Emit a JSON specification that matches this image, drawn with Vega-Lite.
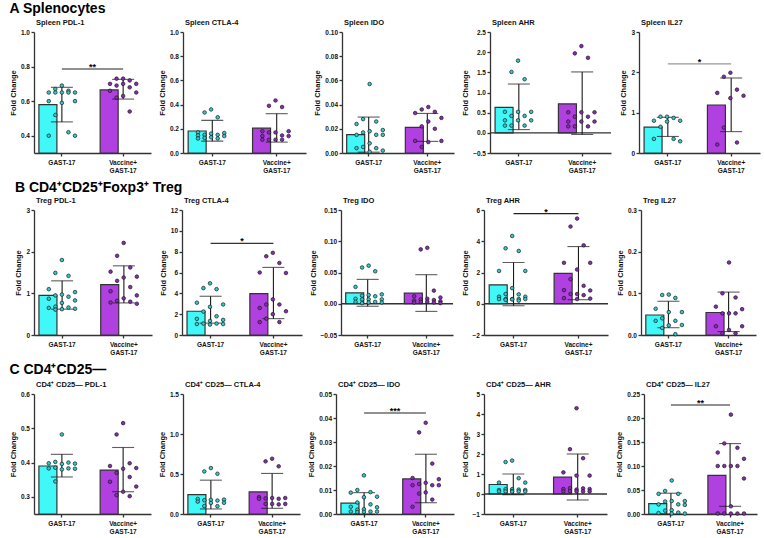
{
"$schema":"https://vega.github.io/schema/vega-lite/v6.json",
"padding":{"left":9,"top":1,"right":2,"bottom":0},
"background":"white",
"datasets":{
"bars":[
{"p":"A1","g":"G","mean":0.58,"lo":0.48,"hi":0.68},{"p":"A1","g":"V","mean":0.665,"lo":0.612,"hi":0.726},
{"p":"A2","g":"G","mean":0.182,"lo":0.098,"hi":0.27},{"p":"A2","g":"V","mean":0.205,"lo":0.09,"hi":0.325},
{"p":"A3","g":"G","mean":0.0152,"lo":0.0007,"hi":0.0297},{"p":"A3","g":"V","mean":0.0212,"lo":0.0096,"hi":0.0327},
{"p":"A4","g":"G","mean":0.633,"lo":0.08,"hi":1.21},{"p":"A4","g":"V","mean":0.717,"lo":-0.04,"hi":1.51},
{"p":"A5","g":"G","mean":0.64,"lo":0.41,"hi":0.885},{"p":"A5","g":"V","mean":1.19,"lo":0.53,"hi":1.86},
{"p":"B1","g":"G","mean":0.95,"lo":0.62,"hi":1.3},{"p":"B1","g":"V","mean":1.21,"lo":0.77,"hi":1.66},
{"p":"B2","g":"G","mean":2.28,"lo":1.14,"hi":3.72},{"p":"B2","g":"V","mean":3.98,"lo":1.57,"hi":6.49},
{"p":"B3","g":"G","mean":0.0174,"lo":-0.004,"hi":0.039},{"p":"B3","g":"V","mean":0.0169,"lo":-0.0122,"hi":0.0465},
{"p":"B4","g":"G","mean":1.21,"lo":-0.13,"hi":2.64},{"p":"B4","g":"V","mean":1.94,"lo":0.26,"hi":3.66},
{"p":"B5","g":"G","mean":0.048,"lo":0.0175,"hi":0.081},{"p":"B5","g":"V","mean":0.054,"lo":0.0083,"hi":0.103},
{"p":"C1","g":"G","mean":0.39,"lo":0.358,"hi":0.424},{"p":"C1","g":"V","mean":0.378,"lo":0.315,"hi":0.444},
{"p":"C2","g":"G","mean":0.243,"lo":0.063,"hi":0.423},{"p":"C2","g":"V","mean":0.276,"lo":0.071,"hi":0.507},
{"p":"C3","g":"G","mean":0.0045,"lo":0.0,"hi":0.0089},{"p":"C3","g":"V","mean":0.0146,"lo":0.0047,"hi":0.0249},
{"p":"C4","g":"G","mean":0.476,"lo":-0.03,"hi":1.0},{"p":"C4","g":"V","mean":0.84,"lo":-0.3,"hi":2.0},
{"p":"C5","g":"G","mean":0.0216,"lo":0.0,"hi":0.0433},{"p":"C5","g":"V","mean":0.0803,"lo":0.016,"hi":0.1467}
],
"sig":[
{"p":"A1","from":"G","to":"V","y":0.786,"label":"**"},
{"p":"A5","from":"G","to":"V","y":2.21,"label":"*"},
{"p":"B2","from":"G","to":"V","y":8.8,"label":"*"},
{"p":"B4","from":"G","to":"V","y":5.77,"label":"*"},
{"p":"C3","from":"G","to":"V","y":0.0421,"label":"***"},
{"p":"C5","from":"G","to":"V","y":0.227,"label":"**"}
],
"pts":[
{"p":"A1","g":"G","v":0.69},{"p":"A1","g":"G","v":0.67},{"p":"A1","g":"G","v":0.66},{"p":"A1","g":"G","v":0.65},{"p":"A1","g":"G","v":0.65},{"p":"A1","g":"G","v":0.65},{"p":"A1","g":"G","v":0.65},{"p":"A1","g":"G","v":0.65},{"p":"A1","g":"G","v":0.6},{"p":"A1","g":"G","v":0.6},{"p":"A1","g":"G","v":0.59},{"p":"A1","g":"G","v":0.52},{"p":"A1","g":"G","v":0.42},{"p":"A1","g":"G","v":0.4},{"p":"A1","g":"G","v":0.4},
{"p":"A1","g":"V","v":0.73},{"p":"A1","g":"V","v":0.73},{"p":"A1","g":"V","v":0.72},{"p":"A1","g":"V","v":0.7},{"p":"A1","g":"V","v":0.7},{"p":"A1","g":"V","v":0.7},{"p":"A1","g":"V","v":0.69},{"p":"A1","g":"V","v":0.68},{"p":"A1","g":"V","v":0.66},{"p":"A1","g":"V","v":0.65},{"p":"A1","g":"V","v":0.63},{"p":"A1","g":"V","v":0.62},{"p":"A1","g":"V","v":0.54},
{"p":"A2","g":"G","v":0.36},{"p":"A2","g":"G","v":0.335},{"p":"A2","g":"G","v":0.295},{"p":"A2","g":"G","v":0.17},{"p":"A2","g":"G","v":0.165},{"p":"A2","g":"G","v":0.16},{"p":"A2","g":"G","v":0.15},{"p":"A2","g":"G","v":0.15},{"p":"A2","g":"G","v":0.145},{"p":"A2","g":"G","v":0.14},{"p":"A2","g":"G","v":0.13},{"p":"A2","g":"G","v":0.125},{"p":"A2","g":"G","v":0.12},{"p":"A2","g":"G","v":0.12},
{"p":"A2","g":"V","v":0.434},{"p":"A2","g":"V","v":0.39},{"p":"A2","g":"V","v":0.38},{"p":"A2","g":"V","v":0.18},{"p":"A2","g":"V","v":0.18},{"p":"A2","g":"V","v":0.17},{"p":"A2","g":"V","v":0.17},{"p":"A2","g":"V","v":0.145},{"p":"A2","g":"V","v":0.14},{"p":"A2","g":"V","v":0.14},{"p":"A2","g":"V","v":0.11},{"p":"A2","g":"V","v":0.11},{"p":"A2","g":"V","v":0.11},{"p":"A2","g":"V","v":0.11},
{"p":"A3","g":"G","v":0.057},{"p":"A3","g":"G","v":0.028},{"p":"A3","g":"G","v":0.026},{"p":"A3","g":"G","v":0.024},{"p":"A3","g":"G","v":0.019},{"p":"A3","g":"G","v":0.018},{"p":"A3","g":"G","v":0.017},{"p":"A3","g":"G","v":0.015},{"p":"A3","g":"G","v":0.015},{"p":"A3","g":"G","v":0.015},{"p":"A3","g":"G","v":0.008},{"p":"A3","g":"G","v":0.005},{"p":"A3","g":"G","v":0.004},{"p":"A3","g":"G","v":0.004},{"p":"A3","g":"G","v":0.002},{"p":"A3","g":"G","v":0.001},
{"p":"A3","g":"V","v":0.038},{"p":"A3","g":"V","v":0.036},{"p":"A3","g":"V","v":0.034},{"p":"A3","g":"V","v":0.033},{"p":"A3","g":"V","v":0.029},{"p":"A3","g":"V","v":0.026},{"p":"A3","g":"V","v":0.022},{"p":"A3","g":"V","v":0.02},{"p":"A3","g":"V","v":0.01},{"p":"A3","g":"V","v":0.01},{"p":"A3","g":"V","v":0.009},{"p":"A3","g":"V","v":0.005},
{"p":"A4","g":"G","v":1.79},{"p":"A4","g":"G","v":1.51},{"p":"A4","g":"G","v":1.33},{"p":"A4","g":"G","v":0.52},{"p":"A4","g":"G","v":0.52},{"p":"A4","g":"G","v":0.52},{"p":"A4","g":"G","v":0.42},{"p":"A4","g":"G","v":0.42},{"p":"A4","g":"G","v":0.31},{"p":"A4","g":"G","v":0.31},{"p":"A4","g":"G","v":0.31},{"p":"A4","g":"G","v":0.18},{"p":"A4","g":"G","v":0.18},{"p":"A4","g":"G","v":0.18},
{"p":"A4","g":"V","v":2.15},{"p":"A4","g":"V","v":1.97},{"p":"A4","g":"V","v":1.86},{"p":"A4","g":"V","v":0.51},{"p":"A4","g":"V","v":0.51},{"p":"A4","g":"V","v":0.51},{"p":"A4","g":"V","v":0.4},{"p":"A4","g":"V","v":0.4},{"p":"A4","g":"V","v":0.28},{"p":"A4","g":"V","v":0.28},{"p":"A4","g":"V","v":0.28},{"p":"A4","g":"V","v":0.16},{"p":"A4","g":"V","v":0.16},{"p":"A4","g":"V","v":0.16},
{"p":"A5","g":"G","v":0.9},{"p":"A5","g":"G","v":0.9},{"p":"A5","g":"G","v":0.87},{"p":"A5","g":"G","v":0.8},{"p":"A5","g":"G","v":0.8},{"p":"A5","g":"G","v":0.78},{"p":"A5","g":"G","v":0.65},{"p":"A5","g":"G","v":0.35},{"p":"A5","g":"G","v":0.35},{"p":"A5","g":"G","v":0.29},
{"p":"A5","g":"V","v":1.99},{"p":"A5","g":"V","v":1.89},{"p":"A5","g":"V","v":1.57},{"p":"A5","g":"V","v":1.49},{"p":"A5","g":"V","v":1.42},{"p":"A5","g":"V","v":1.36},{"p":"A5","g":"V","v":0.63},{"p":"A5","g":"V","v":0.26},{"p":"A5","g":"V","v":0.21},
{"p":"B1","g":"G","v":1.8},{"p":"B1","g":"G","v":1.49},{"p":"B1","g":"G","v":1.42},{"p":"B1","g":"G","v":1.1},{"p":"B1","g":"G","v":1.03},{"p":"B1","g":"G","v":0.97},{"p":"B1","g":"G","v":0.95},{"p":"B1","g":"G","v":0.92},{"p":"B1","g":"G","v":0.87},{"p":"B1","g":"G","v":0.83},{"p":"B1","g":"G","v":0.77},{"p":"B1","g":"G","v":0.68},{"p":"B1","g":"G","v":0.66},{"p":"B1","g":"G","v":0.65},{"p":"B1","g":"G","v":0.63},{"p":"B1","g":"G","v":0.62},{"p":"B1","g":"G","v":0.61},
{"p":"B1","g":"V","v":2.21},{"p":"B1","g":"V","v":1.9},{"p":"B1","g":"V","v":1.62},{"p":"B1","g":"V","v":1.52},{"p":"B1","g":"V","v":1.4},{"p":"B1","g":"V","v":1.38},{"p":"B1","g":"V","v":1.3},{"p":"B1","g":"V","v":1.15},{"p":"B1","g":"V","v":1.05},{"p":"B1","g":"V","v":0.95},{"p":"B1","g":"V","v":0.88},{"p":"B1","g":"V","v":0.82},{"p":"B1","g":"V","v":0.8},{"p":"B1","g":"V","v":0.78},{"p":"B1","g":"V","v":0.75},
{"p":"B2","g":"G","v":4.96},{"p":"B2","g":"G","v":4.5},{"p":"B2","g":"G","v":4.4},{"p":"B2","g":"G","v":3.1},{"p":"B2","g":"G","v":2.93},{"p":"B2","g":"G","v":2.7},{"p":"B2","g":"G","v":2.25},{"p":"B2","g":"G","v":1.8},{"p":"B2","g":"G","v":1.55},{"p":"B2","g":"G","v":1.45},{"p":"B2","g":"G","v":1.35},{"p":"B2","g":"G","v":1.1},{"p":"B2","g":"G","v":1.1},{"p":"B2","g":"G","v":1.05},{"p":"B2","g":"G","v":1.05},{"p":"B2","g":"G","v":1.0},
{"p":"B2","g":"V","v":7.89},{"p":"B2","g":"V","v":7.56},{"p":"B2","g":"V","v":6.91},{"p":"B2","g":"V","v":6.0},{"p":"B2","g":"V","v":5.95},{"p":"B2","g":"V","v":3.42},{"p":"B2","g":"V","v":2.93},{"p":"B2","g":"V","v":2.93},{"p":"B2","g":"V","v":2.6},{"p":"B2","g":"V","v":2.28},{"p":"B2","g":"V","v":2.0},{"p":"B2","g":"V","v":1.57},{"p":"B2","g":"V","v":1.24},{"p":"B2","g":"V","v":1.24},
{"p":"B3","g":"G","v":0.061},{"p":"B3","g":"G","v":0.058},{"p":"B3","g":"G","v":0.052},{"p":"B3","g":"G","v":0.027},{"p":"B3","g":"G","v":0.015},{"p":"B3","g":"G","v":0.014},{"p":"B3","g":"G","v":0.013},{"p":"B3","g":"G","v":0.012},{"p":"B3","g":"G","v":0.008},{"p":"B3","g":"G","v":0.007},{"p":"B3","g":"G","v":0.007},{"p":"B3","g":"G","v":0.007},{"p":"B3","g":"G","v":0.003},{"p":"B3","g":"G","v":0.003},{"p":"B3","g":"G","v":0.002},{"p":"B3","g":"G","v":0.002},{"p":"B3","g":"G","v":0.001},
{"p":"B3","g":"V","v":0.0895},{"p":"B3","g":"V","v":0.087},{"p":"B3","g":"V","v":0.021},{"p":"B3","g":"V","v":0.012},{"p":"B3","g":"V","v":0.01},{"p":"B3","g":"V","v":0.008},{"p":"B3","g":"V","v":0.007},{"p":"B3","g":"V","v":0.006},{"p":"B3","g":"V","v":0.005},{"p":"B3","g":"V","v":0.004},{"p":"B3","g":"V","v":0.003},{"p":"B3","g":"V","v":0.003},{"p":"B3","g":"V","v":0.002},{"p":"B3","g":"V","v":0.002},{"p":"B3","g":"V","v":0.001},
{"p":"B4","g":"G","v":4.34},{"p":"B4","g":"G","v":3.55},{"p":"B4","g":"G","v":3.38},{"p":"B4","g":"G","v":2.1},{"p":"B4","g":"G","v":2.1},{"p":"B4","g":"G","v":1.0},{"p":"B4","g":"G","v":0.62},{"p":"B4","g":"G","v":0.6},{"p":"B4","g":"G","v":0.45},{"p":"B4","g":"G","v":0.45},{"p":"B4","g":"G","v":0.3},{"p":"B4","g":"G","v":0.3},{"p":"B4","g":"G","v":0.3},{"p":"B4","g":"G","v":0.3},{"p":"B4","g":"G","v":0.3},{"p":"B4","g":"G","v":0.28},{"p":"B4","g":"G","v":0.25},{"p":"B4","g":"G","v":0.2},
{"p":"B4","g":"V","v":5.45},{"p":"B4","g":"V","v":4.94},{"p":"B4","g":"V","v":3.74},{"p":"B4","g":"V","v":2.62},{"p":"B4","g":"V","v":2.62},{"p":"B4","g":"V","v":2.19},{"p":"B4","g":"V","v":1.57},{"p":"B4","g":"V","v":1.15},{"p":"B4","g":"V","v":0.87},{"p":"B4","g":"V","v":0.85},{"p":"B4","g":"V","v":0.62},{"p":"B4","g":"V","v":0.62},{"p":"B4","g":"V","v":0.55},{"p":"B4","g":"V","v":0.36},{"p":"B4","g":"V","v":0.33},{"p":"B4","g":"V","v":0.3},
{"p":"B5","g":"G","v":0.097},{"p":"B5","g":"G","v":0.096},{"p":"B5","g":"G","v":0.089},{"p":"B5","g":"G","v":0.063},{"p":"B5","g":"G","v":0.055},{"p":"B5","g":"G","v":0.055},{"p":"B5","g":"G","v":0.04},{"p":"B5","g":"G","v":0.034},{"p":"B5","g":"G","v":0.034},{"p":"B5","g":"G","v":0.024},{"p":"B5","g":"G","v":0.023},{"p":"B5","g":"G","v":0.017},{"p":"B5","g":"G","v":0.002},
{"p":"B5","g":"V","v":0.174},{"p":"B5","g":"V","v":0.1},{"p":"B5","g":"V","v":0.09},{"p":"B5","g":"V","v":0.068},{"p":"B5","g":"V","v":0.062},{"p":"B5","g":"V","v":0.052},{"p":"B5","g":"V","v":0.052},{"p":"B5","g":"V","v":0.052},{"p":"B5","g":"V","v":0.021},{"p":"B5","g":"V","v":0.021},{"p":"B5","g":"V","v":0.012},{"p":"B5","g":"V","v":0.004},{"p":"B5","g":"V","v":0.004},
{"p":"C1","g":"G","v":0.482},{"p":"C1","g":"G","v":0.402},{"p":"C1","g":"G","v":0.4},{"p":"C1","g":"G","v":0.398},{"p":"C1","g":"G","v":0.397},{"p":"C1","g":"G","v":0.396},{"p":"C1","g":"G","v":0.385},{"p":"C1","g":"G","v":0.383},{"p":"C1","g":"G","v":0.383},{"p":"C1","g":"G","v":0.382},{"p":"C1","g":"G","v":0.38},{"p":"C1","g":"G","v":0.345},
{"p":"C1","g":"V","v":0.515},{"p":"C1","g":"V","v":0.482},{"p":"C1","g":"V","v":0.398},{"p":"C1","g":"V","v":0.39},{"p":"C1","g":"V","v":0.384},{"p":"C1","g":"V","v":0.382},{"p":"C1","g":"V","v":0.37},{"p":"C1","g":"V","v":0.358},{"p":"C1","g":"V","v":0.344},{"p":"C1","g":"V","v":0.33},{"p":"C1","g":"V","v":0.315},{"p":"C1","g":"V","v":0.305},{"p":"C1","g":"V","v":0.302},
{"p":"C2","g":"G","v":0.574},{"p":"C2","g":"G","v":0.532},{"p":"C2","g":"G","v":0.503},{"p":"C2","g":"G","v":0.188},{"p":"C2","g":"G","v":0.18},{"p":"C2","g":"G","v":0.176},{"p":"C2","g":"G","v":0.172},{"p":"C2","g":"G","v":0.168},{"p":"C2","g":"G","v":0.155},{"p":"C2","g":"G","v":0.14},{"p":"C2","g":"G","v":0.138},{"p":"C2","g":"G","v":0.1},{"p":"C2","g":"G","v":0.098},
{"p":"C2","g":"V","v":0.691},{"p":"C2","g":"V","v":0.658},{"p":"C2","g":"V","v":0.596},{"p":"C2","g":"V","v":0.21},{"p":"C2","g":"V","v":0.2},{"p":"C2","g":"V","v":0.2},{"p":"C2","g":"V","v":0.195},{"p":"C2","g":"V","v":0.19},{"p":"C2","g":"V","v":0.19},{"p":"C2","g":"V","v":0.126},{"p":"C2","g":"V","v":0.126},{"p":"C2","g":"V","v":0.126},{"p":"C2","g":"V","v":0.12},
{"p":"C3","g":"G","v":0.0161},{"p":"C3","g":"G","v":0.01},{"p":"C3","g":"G","v":0.0091},{"p":"C3","g":"G","v":0.0089},{"p":"C3","g":"G","v":0.0072},{"p":"C3","g":"G","v":0.007},{"p":"C3","g":"G","v":0.0048},{"p":"C3","g":"G","v":0.004},{"p":"C3","g":"G","v":0.003},{"p":"C3","g":"G","v":0.0028},{"p":"C3","g":"G","v":0.002},{"p":"C3","g":"G","v":0.0018},{"p":"C3","g":"G","v":0.001},{"p":"C3","g":"G","v":0.001},{"p":"C3","g":"G","v":0.001},{"p":"C3","g":"G","v":0.0009},{"p":"C3","g":"G","v":0.0008},
{"p":"C3","g":"V","v":0.038},{"p":"C3","g":"V","v":0.034},{"p":"C3","g":"V","v":0.021},{"p":"C3","g":"V","v":0.015},{"p":"C3","g":"V","v":0.0145},{"p":"C3","g":"V","v":0.013},{"p":"C3","g":"V","v":0.0125},{"p":"C3","g":"V","v":0.012},{"p":"C3","g":"V","v":0.012},{"p":"C3","g":"V","v":0.012},{"p":"C3","g":"V","v":0.009},{"p":"C3","g":"V","v":0.0085},{"p":"C3","g":"V","v":0.006},{"p":"C3","g":"V","v":0.003},
{"p":"C4","g":"G","v":1.67},{"p":"C4","g":"G","v":1.6},{"p":"C4","g":"G","v":0.79},{"p":"C4","g":"G","v":0.57},{"p":"C4","g":"G","v":0.57},{"p":"C4","g":"G","v":0.24},{"p":"C4","g":"G","v":0.24},{"p":"C4","g":"G","v":0.22},{"p":"C4","g":"G","v":0.2},{"p":"C4","g":"G","v":0.2},{"p":"C4","g":"G","v":0.15},{"p":"C4","g":"G","v":0.13},{"p":"C4","g":"G","v":0.13},{"p":"C4","g":"G","v":0.13},{"p":"C4","g":"G","v":0.13},{"p":"C4","g":"G","v":0.12},
{"p":"C4","g":"V","v":4.29},{"p":"C4","g":"V","v":2.24},{"p":"C4","g":"V","v":1.79},{"p":"C4","g":"V","v":1.08},{"p":"C4","g":"V","v":0.92},{"p":"C4","g":"V","v":0.92},{"p":"C4","g":"V","v":0.29},{"p":"C4","g":"V","v":0.28},{"p":"C4","g":"V","v":0.25},{"p":"C4","g":"V","v":0.25},{"p":"C4","g":"V","v":0.22},{"p":"C4","g":"V","v":0.15},{"p":"C4","g":"V","v":0.13},{"p":"C4","g":"V","v":0.13},{"p":"C4","g":"V","v":0.13},{"p":"C4","g":"V","v":0.13},
{"p":"C5","g":"G","v":0.0698},{"p":"C5","g":"G","v":0.048},{"p":"C5","g":"G","v":0.042},{"p":"C5","g":"G","v":0.042},{"p":"C5","g":"G","v":0.027},{"p":"C5","g":"G","v":0.027},{"p":"C5","g":"G","v":0.026},{"p":"C5","g":"G","v":0.02},{"p":"C5","g":"G","v":0.02},{"p":"C5","g":"G","v":0.019},{"p":"C5","g":"G","v":0.008},{"p":"C5","g":"G","v":0.007},{"p":"C5","g":"G","v":0.003},{"p":"C5","g":"G","v":0.002},{"p":"C5","g":"G","v":0.001},{"p":"C5","g":"G","v":0.001},
{"p":"C5","g":"V","v":0.207},{"p":"C5","g":"V","v":0.147},{"p":"C5","g":"V","v":0.138},{"p":"C5","g":"V","v":0.128},{"p":"C5","g":"V","v":0.115},{"p":"C5","g":"V","v":0.1},{"p":"C5","g":"V","v":0.1},{"p":"C5","g":"V","v":0.1},{"p":"C5","g":"V","v":0.1},{"p":"C5","g":"V","v":0.074},{"p":"C5","g":"V","v":0.016},{"p":"C5","g":"V","v":0.001},{"p":"C5","g":"V","v":0.001},{"p":"C5","g":"V","v":0.001},{"p":"C5","g":"V","v":0.001},{"p":"C5","g":"V","v":0.001}
]
},
"spacing":6,
"vconcat":[
{"title":{"text":"A Splenocytes","fontSize":14,"frame":"bounds","dx":0,"offset":3,"color":"#000"},"spacing":7,
"hconcat":[
{"width":117,"height":121,"title":"Spleen PDL-1","layer":[
{"data":{"name":"bars"},"transform":[{"filter":"datum.p=='A1'"}],"mark":{"type":"bar","stroke":"#333","strokeWidth":1.2},"encoding":{"x":{"field":"g","type":"nominal","scale":{"domain":["G","V"],"paddingInner":0.25,"paddingOuter":0.08},"axis":{"title":null,"labelAngle":0,"labelExpr":"datum.value=='V'?['Vaccine+','GAST-17']:'GAST-17'","labelLineHeight":8,"labelPadding":3}},"y":{"field":"mean","type":"quantitative","scale":{"domain":[0.3,1],"nice":false,"zero":false},"axis":{"values":[0.4,0.6,0.8,1],"tickCount":20,"format":".1f","title":"Fold  Change","labelOverlap":false}},"y2":{"datum":0.3},"color":{"field":"g","type":"nominal","scale":{"domain":["G","V"],"range":["#40F8F8","#B040E0"]},"legend":null}}},
{"data":{"name":"bars"},"transform":[{"filter":"datum.p=='A1'"}],"mark":{"type":"rule","color":"#1a1a1a","strokeWidth":1.1},"encoding":{"x":{"field":"g","type":"nominal"},"y":{"field":"lo","type":"quantitative"},"y2":{"field":"hi"}}},
{"data":{"name":"bars"},"transform":[{"filter":"datum.p=='A1'"},{"fold":["lo","hi"]}],"mark":{"type":"tick","color":"#1a1a1a","thickness":1.1,"size":22},"encoding":{"x":{"field":"g","type":"nominal"},"y":{"field":"value","type":"quantitative"}}},
{"data":{"name":"pts"},"transform":[{"filter":"datum.p=='A1'"},{"window":[{"op":"row_number","as":"rn"}],"groupby":["g"],"sort":[{"field":"v","order":"descending"}]},{"calculate":"[0,-1,1,-2,2][(datum.rn-1)%5]","as":"jit"}],"mark":{"type":"circle","size":13,"stroke":"#1a1a1a","strokeWidth":0.7,"opacity":1},"encoding":{"x":{"field":"g","type":"nominal"},"xOffset":{"field":"jit","type":"quantitative","scale":{"domain":[-3.5,3.5]}},"y":{"field":"v","type":"quantitative"},"fill":{"field":"g","type":"nominal","scale":{"domain":["G","V"],"range":["#2CCCCC","#8B2AB8"]},"legend":null}}},
{"data":{"name":"sig"},"transform":[{"filter":"datum.p=='A1'"}],"mark":{"type":"rule","color":"#222","strokeWidth":1.1},"encoding":{"x":{"field":"from","type":"nominal"},"x2":{"field":"to"},"y":{"field":"y","type":"quantitative"}}},
{"data":{"name":"sig"},"transform":[{"filter":"datum.p=='A1'"}],"mark":{"type":"text","dx":30.6,"dy":1,"baseline":"alphabetic","fontSize":9,"fontWeight":"bold"},"encoding":{"x":{"field":"from","type":"nominal"},"y":{"field":"y","type":"quantitative"},"text":{"field":"label"}}}
]},
{"width":123,"height":121,"title":"Spleen CTLA-4","layer":[
{"data":{"name":"bars"},"transform":[{"filter":"datum.p=='A2'"}],"mark":{"type":"bar","stroke":"#333","strokeWidth":1.2},"encoding":{"x":{"field":"g","type":"nominal","scale":{"domain":["G","V"],"paddingInner":0.25,"paddingOuter":0.08},"axis":{"title":null,"labelAngle":0,"labelExpr":"datum.value=='V'?['Vaccine+','GAST-17']:'GAST-17'","labelLineHeight":8,"labelPadding":3}},"y":{"field":"mean","type":"quantitative","scale":{"domain":[0,1],"nice":false,"zero":false},"axis":{"values":[0,0.2,0.4,0.6,0.8,1],"tickCount":20,"format":".1f","title":"Fold  Change","labelOverlap":false}},"y2":{"datum":0},"color":{"field":"g","type":"nominal","scale":{"domain":["G","V"],"range":["#40F8F8","#B040E0"]},"legend":null}}},
{"data":{"name":"bars"},"transform":[{"filter":"datum.p=='A2'"}],"mark":{"type":"rule","color":"#1a1a1a","strokeWidth":1.1},"encoding":{"x":{"field":"g","type":"nominal"},"y":{"field":"lo","type":"quantitative"},"y2":{"field":"hi"}}},
{"data":{"name":"bars"},"transform":[{"filter":"datum.p=='A2'"},{"fold":["lo","hi"]}],"mark":{"type":"tick","color":"#1a1a1a","thickness":1.1,"size":22},"encoding":{"x":{"field":"g","type":"nominal"},"y":{"field":"value","type":"quantitative"}}},
{"data":{"name":"pts"},"transform":[{"filter":"datum.p=='A2'"},{"window":[{"op":"row_number","as":"rn"}],"groupby":["g"],"sort":[{"field":"v","order":"descending"}]},{"calculate":"[0,-1,1,-2,2][(datum.rn-1)%5]","as":"jit"}],"mark":{"type":"circle","size":13,"stroke":"#1a1a1a","strokeWidth":0.7,"opacity":1},"encoding":{"x":{"field":"g","type":"nominal"},"xOffset":{"field":"jit","type":"quantitative","scale":{"domain":[-3.5,3.5]}},"y":{"field":"v","type":"quantitative"},"fill":{"field":"g","type":"nominal","scale":{"domain":["G","V"],"range":["#2CCCCC","#8B2AB8"]},"legend":null}}}
]},
{"width":112,"height":121,"title":"Spleen IDO","layer":[
{"data":{"name":"bars"},"transform":[{"filter":"datum.p=='A3'"}],"mark":{"type":"bar","stroke":"#333","strokeWidth":1.2},"encoding":{"x":{"field":"g","type":"nominal","scale":{"domain":["G","V"],"paddingInner":0.25,"paddingOuter":0.08},"axis":{"title":null,"labelAngle":0,"labelExpr":"datum.value=='V'?['Vaccine+','GAST-17']:'GAST-17'","labelLineHeight":8,"labelPadding":3}},"y":{"field":"mean","type":"quantitative","scale":{"domain":[0,0.1],"nice":false,"zero":false},"axis":{"values":[0,0.02,0.04,0.06,0.08,0.1],"tickCount":20,"format":".2f","title":"Fold  Change","labelOverlap":false}},"y2":{"datum":0},"color":{"field":"g","type":"nominal","scale":{"domain":["G","V"],"range":["#40F8F8","#B040E0"]},"legend":null}}},
{"data":{"name":"bars"},"transform":[{"filter":"datum.p=='A3'"}],"mark":{"type":"rule","color":"#1a1a1a","strokeWidth":1.1},"encoding":{"x":{"field":"g","type":"nominal"},"y":{"field":"lo","type":"quantitative"},"y2":{"field":"hi"}}},
{"data":{"name":"bars"},"transform":[{"filter":"datum.p=='A3'"},{"fold":["lo","hi"]}],"mark":{"type":"tick","color":"#1a1a1a","thickness":1.1,"size":22},"encoding":{"x":{"field":"g","type":"nominal"},"y":{"field":"value","type":"quantitative"}}},
{"data":{"name":"pts"},"transform":[{"filter":"datum.p=='A3'"},{"window":[{"op":"row_number","as":"rn"}],"groupby":["g"],"sort":[{"field":"v","order":"descending"}]},{"calculate":"[0,-1,1,-2,2][(datum.rn-1)%5]","as":"jit"}],"mark":{"type":"circle","size":13,"stroke":"#1a1a1a","strokeWidth":0.7,"opacity":1},"encoding":{"x":{"field":"g","type":"nominal"},"xOffset":{"field":"jit","type":"quantitative","scale":{"domain":[-3.5,3.5]}},"y":{"field":"v","type":"quantitative"},"fill":{"field":"g","type":"nominal","scale":{"domain":["G","V"],"range":["#2CCCCC","#8B2AB8"]},"legend":null}}}
]},
{"width":121,"height":121,"title":"Spleen AHR","layer":[
{"data":{"name":"bars"},"transform":[{"filter":"datum.p=='A4'"}],"mark":{"type":"bar","stroke":"#333","strokeWidth":1.2},"encoding":{"x":{"field":"g","type":"nominal","scale":{"domain":["G","V"],"paddingInner":0.25,"paddingOuter":0.08},"axis":{"title":null,"labelAngle":0,"labelExpr":"datum.value=='V'?['Vaccine+','GAST-17']:'GAST-17'","labelLineHeight":8,"labelPadding":3}},"y":{"field":"mean","type":"quantitative","scale":{"domain":[-0.5,2.5],"nice":false,"zero":false},"axis":{"values":[-0.5,0,0.5,1,1.5,2,2.5],"tickCount":20,"format":".1f","title":"Fold  Change","labelOverlap":false}},"y2":{"datum":0},"color":{"field":"g","type":"nominal","scale":{"domain":["G","V"],"range":["#40F8F8","#B040E0"]},"legend":null}}},
{"data":{"values":[{}]},"mark":{"type":"rule","color":"#333","strokeWidth":1.3},"encoding":{"y":{"datum":0,"type":"quantitative"}}},
{"data":{"name":"bars"},"transform":[{"filter":"datum.p=='A4'"}],"mark":{"type":"rule","color":"#1a1a1a","strokeWidth":1.1},"encoding":{"x":{"field":"g","type":"nominal"},"y":{"field":"lo","type":"quantitative"},"y2":{"field":"hi"}}},
{"data":{"name":"bars"},"transform":[{"filter":"datum.p=='A4'"},{"fold":["lo","hi"]}],"mark":{"type":"tick","color":"#1a1a1a","thickness":1.1,"size":22},"encoding":{"x":{"field":"g","type":"nominal"},"y":{"field":"value","type":"quantitative"}}},
{"data":{"name":"pts"},"transform":[{"filter":"datum.p=='A4'"},{"window":[{"op":"row_number","as":"rn"}],"groupby":["g"],"sort":[{"field":"v","order":"descending"}]},{"calculate":"[0,-1,1,-2,2][(datum.rn-1)%5]","as":"jit"}],"mark":{"type":"circle","size":13,"stroke":"#1a1a1a","strokeWidth":0.7,"opacity":1},"encoding":{"x":{"field":"g","type":"nominal"},"xOffset":{"field":"jit","type":"quantitative","scale":{"domain":[-3.5,3.5]}},"y":{"field":"v","type":"quantitative"},"fill":{"field":"g","type":"nominal","scale":{"domain":["G","V"],"range":["#2CCCCC","#8B2AB8"]},"legend":null}}}
]},
{"width":121,"height":121,"title":"Spleen IL27","layer":[
{"data":{"name":"bars"},"transform":[{"filter":"datum.p=='A5'"}],"mark":{"type":"bar","stroke":"#333","strokeWidth":1.2},"encoding":{"x":{"field":"g","type":"nominal","scale":{"domain":["G","V"],"paddingInner":0.25,"paddingOuter":0.08},"axis":{"title":null,"labelAngle":0,"labelExpr":"datum.value=='V'?['Vaccine+','GAST-17']:'GAST-17'","labelLineHeight":8,"labelPadding":3}},"y":{"field":"mean","type":"quantitative","scale":{"domain":[0,3],"nice":false,"zero":false},"axis":{"values":[0,1,2,3],"tickCount":20,"format":"d","title":"Fold  Change","labelOverlap":false}},"y2":{"datum":0},"color":{"field":"g","type":"nominal","scale":{"domain":["G","V"],"range":["#40F8F8","#B040E0"]},"legend":null}}},
{"data":{"name":"bars"},"transform":[{"filter":"datum.p=='A5'"}],"mark":{"type":"rule","color":"#1a1a1a","strokeWidth":1.1},"encoding":{"x":{"field":"g","type":"nominal"},"y":{"field":"lo","type":"quantitative"},"y2":{"field":"hi"}}},
{"data":{"name":"bars"},"transform":[{"filter":"datum.p=='A5'"},{"fold":["lo","hi"]}],"mark":{"type":"tick","color":"#1a1a1a","thickness":1.1,"size":22},"encoding":{"x":{"field":"g","type":"nominal"},"y":{"field":"value","type":"quantitative"}}},
{"data":{"name":"pts"},"transform":[{"filter":"datum.p=='A5'"},{"window":[{"op":"row_number","as":"rn"}],"groupby":["g"],"sort":[{"field":"v","order":"descending"}]},{"calculate":"[0,-1,1,-2,2][(datum.rn-1)%5]","as":"jit"}],"mark":{"type":"circle","size":13,"stroke":"#1a1a1a","strokeWidth":0.7,"opacity":1},"encoding":{"x":{"field":"g","type":"nominal"},"xOffset":{"field":"jit","type":"quantitative","scale":{"domain":[-3.5,3.5]}},"y":{"field":"v","type":"quantitative"},"fill":{"field":"g","type":"nominal","scale":{"domain":["G","V"],"range":["#2CCCCC","#8B2AB8"]},"legend":null}}},
{"data":{"name":"sig"},"transform":[{"filter":"datum.p=='A5'"}],"mark":{"type":"rule","color":"#999","strokeWidth":1.3},"encoding":{"x":{"field":"from","type":"nominal"},"x2":{"field":"to"},"y":{"field":"y","type":"quantitative"}}},
{"data":{"name":"sig"},"transform":[{"filter":"datum.p=='A5'"}],"mark":{"type":"text","dx":31.7,"dy":1,"baseline":"alphabetic","fontSize":9,"fontWeight":"bold"},"encoding":{"x":{"field":"from","type":"nominal"},"y":{"field":"y","type":"quantitative"},"text":{"field":"label"}}}
]}
]},
{"title":{"text":"B CD4⁺CD25⁺Foxp3⁺ Treg","fontSize":14,"frame":"bounds","dx":0,"offset":2,"color":"#000"},"spacing":7,
"hconcat":[
{"width":118,"height":125,"title":"Treg PDL-1","layer":[
{"data":{"name":"bars"},"transform":[{"filter":"datum.p=='B1'"}],"mark":{"type":"bar","stroke":"#333","strokeWidth":1.2},"encoding":{"x":{"field":"g","type":"nominal","scale":{"domain":["G","V"],"paddingInner":0.25,"paddingOuter":0.08},"axis":{"title":null,"labelAngle":0,"labelExpr":"datum.value=='V'?['Vaccine+','GAST-17']:'GAST-17'","labelLineHeight":8,"labelPadding":3}},"y":{"field":"mean","type":"quantitative","scale":{"domain":[0,3],"nice":false,"zero":false},"axis":{"values":[0,1,2,3],"tickCount":20,"format":"d","title":"Fold  Change","labelOverlap":false}},"y2":{"datum":0},"color":{"field":"g","type":"nominal","scale":{"domain":["G","V"],"range":["#40F8F8","#B040E0"]},"legend":null}}},
{"data":{"name":"bars"},"transform":[{"filter":"datum.p=='B1'"}],"mark":{"type":"rule","color":"#1a1a1a","strokeWidth":1.1},"encoding":{"x":{"field":"g","type":"nominal"},"y":{"field":"lo","type":"quantitative"},"y2":{"field":"hi"}}},
{"data":{"name":"bars"},"transform":[{"filter":"datum.p=='B1'"},{"fold":["lo","hi"]}],"mark":{"type":"tick","color":"#1a1a1a","thickness":1.1,"size":22},"encoding":{"x":{"field":"g","type":"nominal"},"y":{"field":"value","type":"quantitative"}}},
{"data":{"name":"pts"},"transform":[{"filter":"datum.p=='B1'"},{"window":[{"op":"row_number","as":"rn"}],"groupby":["g"],"sort":[{"field":"v","order":"descending"}]},{"calculate":"[0,-1,1,-2,2][(datum.rn-1)%5]","as":"jit"}],"mark":{"type":"circle","size":13,"stroke":"#1a1a1a","strokeWidth":0.7,"opacity":1},"encoding":{"x":{"field":"g","type":"nominal"},"xOffset":{"field":"jit","type":"quantitative","scale":{"domain":[-3.5,3.5]}},"y":{"field":"v","type":"quantitative"},"fill":{"field":"g","type":"nominal","scale":{"domain":["G","V"],"range":["#2CCCCC","#8B2AB8"]},"legend":null}}}
]},
{"width":120,"height":125,"title":"Treg CTLA-4","layer":[
{"data":{"name":"bars"},"transform":[{"filter":"datum.p=='B2'"}],"mark":{"type":"bar","stroke":"#333","strokeWidth":1.2},"encoding":{"x":{"field":"g","type":"nominal","scale":{"domain":["G","V"],"paddingInner":0.25,"paddingOuter":0.08},"axis":{"title":null,"labelAngle":0,"labelExpr":"datum.value=='V'?['Vaccine+','GAST-17']:'GAST-17'","labelLineHeight":8,"labelPadding":3}},"y":{"field":"mean","type":"quantitative","scale":{"domain":[0,12],"nice":false,"zero":false},"axis":{"values":[0,2,4,6,8,10,12],"tickCount":20,"format":"d","title":"Fold  Change","labelOverlap":false}},"y2":{"datum":0},"color":{"field":"g","type":"nominal","scale":{"domain":["G","V"],"range":["#40F8F8","#B040E0"]},"legend":null}}},
{"data":{"name":"bars"},"transform":[{"filter":"datum.p=='B2'"}],"mark":{"type":"rule","color":"#1a1a1a","strokeWidth":1.1},"encoding":{"x":{"field":"g","type":"nominal"},"y":{"field":"lo","type":"quantitative"},"y2":{"field":"hi"}}},
{"data":{"name":"bars"},"transform":[{"filter":"datum.p=='B2'"},{"fold":["lo","hi"]}],"mark":{"type":"tick","color":"#1a1a1a","thickness":1.1,"size":22},"encoding":{"x":{"field":"g","type":"nominal"},"y":{"field":"value","type":"quantitative"}}},
{"data":{"name":"pts"},"transform":[{"filter":"datum.p=='B2'"},{"window":[{"op":"row_number","as":"rn"}],"groupby":["g"],"sort":[{"field":"v","order":"descending"}]},{"calculate":"[0,-1,1,-2,2][(datum.rn-1)%5]","as":"jit"}],"mark":{"type":"circle","size":13,"stroke":"#1a1a1a","strokeWidth":0.7,"opacity":1},"encoding":{"x":{"field":"g","type":"nominal"},"xOffset":{"field":"jit","type":"quantitative","scale":{"domain":[-3.5,3.5]}},"y":{"field":"v","type":"quantitative"},"fill":{"field":"g","type":"nominal","scale":{"domain":["G","V"],"range":["#2CCCCC","#8B2AB8"]},"legend":null}}},
{"data":{"name":"sig"},"transform":[{"filter":"datum.p=='B2'"}],"mark":{"type":"rule","color":"#333","strokeWidth":1.1},"encoding":{"x":{"field":"from","type":"nominal"},"x2":{"field":"to"},"y":{"field":"y","type":"quantitative"}}},
{"data":{"name":"sig"},"transform":[{"filter":"datum.p=='B2'"}],"mark":{"type":"text","dx":31.4,"dy":1,"baseline":"alphabetic","fontSize":9,"fontWeight":"bold"},"encoding":{"x":{"field":"from","type":"nominal"},"y":{"field":"y","type":"quantitative"},"text":{"field":"label"}}}
]},
{"width":112,"height":125,"title":"Treg IDO","layer":[
{"data":{"name":"bars"},"transform":[{"filter":"datum.p=='B3'"}],"mark":{"type":"bar","stroke":"#333","strokeWidth":1.2},"encoding":{"x":{"field":"g","type":"nominal","scale":{"domain":["G","V"],"paddingInner":0.25,"paddingOuter":0.08},"axis":{"title":null,"labelAngle":0,"labelExpr":"datum.value=='V'?['Vaccine+','GAST-17']:'GAST-17'","labelLineHeight":8,"labelPadding":3}},"y":{"field":"mean","type":"quantitative","scale":{"domain":[-0.05,0.15],"nice":false,"zero":false},"axis":{"values":[-0.05,0,0.05,0.1,0.15],"tickCount":20,"format":".2f","title":"Fold  Change","labelOverlap":false}},"y2":{"datum":0},"color":{"field":"g","type":"nominal","scale":{"domain":["G","V"],"range":["#40F8F8","#B040E0"]},"legend":null}}},
{"data":{"values":[{}]},"mark":{"type":"rule","color":"#333","strokeWidth":1.3},"encoding":{"y":{"datum":0,"type":"quantitative"}}},
{"data":{"name":"bars"},"transform":[{"filter":"datum.p=='B3'"}],"mark":{"type":"rule","color":"#1a1a1a","strokeWidth":1.1},"encoding":{"x":{"field":"g","type":"nominal"},"y":{"field":"lo","type":"quantitative"},"y2":{"field":"hi"}}},
{"data":{"name":"bars"},"transform":[{"filter":"datum.p=='B3'"},{"fold":["lo","hi"]}],"mark":{"type":"tick","color":"#1a1a1a","thickness":1.1,"size":22},"encoding":{"x":{"field":"g","type":"nominal"},"y":{"field":"value","type":"quantitative"}}},
{"data":{"name":"pts"},"transform":[{"filter":"datum.p=='B3'"},{"window":[{"op":"row_number","as":"rn"}],"groupby":["g"],"sort":[{"field":"v","order":"descending"}]},{"calculate":"[0,-1,1,-2,2][(datum.rn-1)%5]","as":"jit"}],"mark":{"type":"circle","size":13,"stroke":"#1a1a1a","strokeWidth":0.7,"opacity":1},"encoding":{"x":{"field":"g","type":"nominal"},"xOffset":{"field":"jit","type":"quantitative","scale":{"domain":[-3.5,3.5]}},"y":{"field":"v","type":"quantitative"},"fill":{"field":"g","type":"nominal","scale":{"domain":["G","V"],"range":["#2CCCCC","#8B2AB8"]},"legend":null}}}
]},
{"width":124,"height":125,"title":"Treg AHR","layer":[
{"data":{"name":"bars"},"transform":[{"filter":"datum.p=='B4'"}],"mark":{"type":"bar","stroke":"#333","strokeWidth":1.2},"encoding":{"x":{"field":"g","type":"nominal","scale":{"domain":["G","V"],"paddingInner":0.25,"paddingOuter":0.08},"axis":{"title":null,"labelAngle":0,"labelExpr":"datum.value=='V'?['Vaccine+','GAST-17']:'GAST-17'","labelLineHeight":8,"labelPadding":3}},"y":{"field":"mean","type":"quantitative","scale":{"domain":[-2,6],"nice":false,"zero":false},"axis":{"values":[-2,0,2,4,6],"tickCount":20,"format":"d","title":"Fold  Change","labelOverlap":false}},"y2":{"datum":0},"color":{"field":"g","type":"nominal","scale":{"domain":["G","V"],"range":["#40F8F8","#B040E0"]},"legend":null}}},
{"data":{"values":[{}]},"mark":{"type":"rule","color":"#333","strokeWidth":1.3},"encoding":{"y":{"datum":0,"type":"quantitative"}}},
{"data":{"name":"bars"},"transform":[{"filter":"datum.p=='B4'"}],"mark":{"type":"rule","color":"#1a1a1a","strokeWidth":1.1},"encoding":{"x":{"field":"g","type":"nominal"},"y":{"field":"lo","type":"quantitative"},"y2":{"field":"hi"}}},
{"data":{"name":"bars"},"transform":[{"filter":"datum.p=='B4'"},{"fold":["lo","hi"]}],"mark":{"type":"tick","color":"#1a1a1a","thickness":1.1,"size":22},"encoding":{"x":{"field":"g","type":"nominal"},"y":{"field":"value","type":"quantitative"}}},
{"data":{"name":"pts"},"transform":[{"filter":"datum.p=='B4'"},{"window":[{"op":"row_number","as":"rn"}],"groupby":["g"],"sort":[{"field":"v","order":"descending"}]},{"calculate":"[0,-1,1,-2,2][(datum.rn-1)%5]","as":"jit"}],"mark":{"type":"circle","size":13,"stroke":"#1a1a1a","strokeWidth":0.7,"opacity":1},"encoding":{"x":{"field":"g","type":"nominal"},"xOffset":{"field":"jit","type":"quantitative","scale":{"domain":[-3.5,3.5]}},"y":{"field":"v","type":"quantitative"},"fill":{"field":"g","type":"nominal","scale":{"domain":["G","V"],"range":["#2CCCCC","#8B2AB8"]},"legend":null}}},
{"data":{"name":"sig"},"transform":[{"filter":"datum.p=='B4'"}],"mark":{"type":"rule","color":"#222","strokeWidth":1.1},"encoding":{"x":{"field":"from","type":"nominal"},"x2":{"field":"to"},"y":{"field":"y","type":"quantitative"}}},
{"data":{"name":"sig"},"transform":[{"filter":"datum.p=='B4'"}],"mark":{"type":"text","dx":32.5,"dy":1,"baseline":"alphabetic","fontSize":9,"fontWeight":"bold"},"encoding":{"x":{"field":"from","type":"nominal"},"y":{"field":"y","type":"quantitative"},"text":{"field":"label"}}}
]},
{"width":115,"height":125,"title":"Treg IL27","layer":[
{"data":{"name":"bars"},"transform":[{"filter":"datum.p=='B5'"}],"mark":{"type":"bar","stroke":"#333","strokeWidth":1.2},"encoding":{"x":{"field":"g","type":"nominal","scale":{"domain":["G","V"],"paddingInner":0.25,"paddingOuter":0.08},"axis":{"title":null,"labelAngle":0,"labelExpr":"datum.value=='V'?['Vaccine+','GAST-17']:'GAST-17'","labelLineHeight":8,"labelPadding":3}},"y":{"field":"mean","type":"quantitative","scale":{"domain":[0,0.3],"nice":false,"zero":false},"axis":{"values":[0,0.1,0.2,0.3],"tickCount":20,"format":".1f","title":"Fold  Change","labelOverlap":false}},"y2":{"datum":0},"color":{"field":"g","type":"nominal","scale":{"domain":["G","V"],"range":["#40F8F8","#B040E0"]},"legend":null}}},
{"data":{"name":"bars"},"transform":[{"filter":"datum.p=='B5'"}],"mark":{"type":"rule","color":"#1a1a1a","strokeWidth":1.1},"encoding":{"x":{"field":"g","type":"nominal"},"y":{"field":"lo","type":"quantitative"},"y2":{"field":"hi"}}},
{"data":{"name":"bars"},"transform":[{"filter":"datum.p=='B5'"},{"fold":["lo","hi"]}],"mark":{"type":"tick","color":"#1a1a1a","thickness":1.1,"size":22},"encoding":{"x":{"field":"g","type":"nominal"},"y":{"field":"value","type":"quantitative"}}},
{"data":{"name":"pts"},"transform":[{"filter":"datum.p=='B5'"},{"window":[{"op":"row_number","as":"rn"}],"groupby":["g"],"sort":[{"field":"v","order":"descending"}]},{"calculate":"[0,-1,1,-2,2][(datum.rn-1)%5]","as":"jit"}],"mark":{"type":"circle","size":13,"stroke":"#1a1a1a","strokeWidth":0.7,"opacity":1},"encoding":{"x":{"field":"g","type":"nominal"},"xOffset":{"field":"jit","type":"quantitative","scale":{"domain":[-3.5,3.5]}},"y":{"field":"v","type":"quantitative"},"fill":{"field":"g","type":"nominal","scale":{"domain":["G","V"],"range":["#2CCCCC","#8B2AB8"]},"legend":null}}}
]}
]},
{"title":{"text":"C CD4⁺CD25—","fontSize":14,"frame":"bounds","dx":0,"offset":4,"color":"#000"},"spacing":7,
"hconcat":[
{"width":117,"height":120,"title":"CD4⁺ CD25— PDL-1","layer":[
{"data":{"name":"bars"},"transform":[{"filter":"datum.p=='C1'"}],"mark":{"type":"bar","stroke":"#333","strokeWidth":1.2},"encoding":{"x":{"field":"g","type":"nominal","scale":{"domain":["G","V"],"paddingInner":0.25,"paddingOuter":0.08},"axis":{"title":null,"labelAngle":0,"labelExpr":"datum.value=='V'?['Vaccine+','GAST-17']:'GAST-17'","labelLineHeight":8,"labelPadding":3}},"y":{"field":"mean","type":"quantitative","scale":{"domain":[0.25,0.6],"nice":false,"zero":false},"axis":{"values":[0.3,0.4,0.5,0.6],"tickCount":20,"format":".1f","title":"Fold  Change","labelOverlap":false}},"y2":{"datum":0.25},"color":{"field":"g","type":"nominal","scale":{"domain":["G","V"],"range":["#40F8F8","#B040E0"]},"legend":null}}},
{"data":{"name":"bars"},"transform":[{"filter":"datum.p=='C1'"}],"mark":{"type":"rule","color":"#1a1a1a","strokeWidth":1.1},"encoding":{"x":{"field":"g","type":"nominal"},"y":{"field":"lo","type":"quantitative"},"y2":{"field":"hi"}}},
{"data":{"name":"bars"},"transform":[{"filter":"datum.p=='C1'"},{"fold":["lo","hi"]}],"mark":{"type":"tick","color":"#1a1a1a","thickness":1.1,"size":22},"encoding":{"x":{"field":"g","type":"nominal"},"y":{"field":"value","type":"quantitative"}}},
{"data":{"name":"pts"},"transform":[{"filter":"datum.p=='C1'"},{"window":[{"op":"row_number","as":"rn"}],"groupby":["g"],"sort":[{"field":"v","order":"descending"}]},{"calculate":"[0,-1,1,-2,2][(datum.rn-1)%5]","as":"jit"}],"mark":{"type":"circle","size":13,"stroke":"#1a1a1a","strokeWidth":0.7,"opacity":1},"encoding":{"x":{"field":"g","type":"nominal"},"xOffset":{"field":"jit","type":"quantitative","scale":{"domain":[-3.5,3.5]}},"y":{"field":"v","type":"quantitative"},"fill":{"field":"g","type":"nominal","scale":{"domain":["G","V"],"range":["#2CCCCC","#8B2AB8"]},"legend":null}}}
]},
{"width":117,"height":120,"title":"CD4⁺ CD25— CTLA-4","layer":[
{"data":{"name":"bars"},"transform":[{"filter":"datum.p=='C2'"}],"mark":{"type":"bar","stroke":"#333","strokeWidth":1.2},"encoding":{"x":{"field":"g","type":"nominal","scale":{"domain":["G","V"],"paddingInner":0.25,"paddingOuter":0.08},"axis":{"title":null,"labelAngle":0,"labelExpr":"datum.value=='V'?['Vaccine+','GAST-17']:'GAST-17'","labelLineHeight":8,"labelPadding":3}},"y":{"field":"mean","type":"quantitative","scale":{"domain":[0,1.5],"nice":false,"zero":false},"axis":{"values":[0,0.5,1,1.5],"tickCount":20,"format":".1f","title":"Fold  Change","labelOverlap":false}},"y2":{"datum":0},"color":{"field":"g","type":"nominal","scale":{"domain":["G","V"],"range":["#40F8F8","#B040E0"]},"legend":null}}},
{"data":{"name":"bars"},"transform":[{"filter":"datum.p=='C2'"}],"mark":{"type":"rule","color":"#1a1a1a","strokeWidth":1.1},"encoding":{"x":{"field":"g","type":"nominal"},"y":{"field":"lo","type":"quantitative"},"y2":{"field":"hi"}}},
{"data":{"name":"bars"},"transform":[{"filter":"datum.p=='C2'"},{"fold":["lo","hi"]}],"mark":{"type":"tick","color":"#1a1a1a","thickness":1.1,"size":22},"encoding":{"x":{"field":"g","type":"nominal"},"y":{"field":"value","type":"quantitative"}}},
{"data":{"name":"pts"},"transform":[{"filter":"datum.p=='C2'"},{"window":[{"op":"row_number","as":"rn"}],"groupby":["g"],"sort":[{"field":"v","order":"descending"}]},{"calculate":"[0,-1,1,-2,2][(datum.rn-1)%5]","as":"jit"}],"mark":{"type":"circle","size":13,"stroke":"#1a1a1a","strokeWidth":0.7,"opacity":1},"encoding":{"x":{"field":"g","type":"nominal"},"xOffset":{"field":"jit","type":"quantitative","scale":{"domain":[-3.5,3.5]}},"y":{"field":"v","type":"quantitative"},"fill":{"field":"g","type":"nominal","scale":{"domain":["G","V"],"range":["#2CCCCC","#8B2AB8"]},"legend":null}}}
]},
{"width":118,"height":120,"title":"CD4⁺ CD25— IDO","layer":[
{"data":{"name":"bars"},"transform":[{"filter":"datum.p=='C3'"}],"mark":{"type":"bar","stroke":"#333","strokeWidth":1.2},"encoding":{"x":{"field":"g","type":"nominal","scale":{"domain":["G","V"],"paddingInner":0.25,"paddingOuter":0.08},"axis":{"title":null,"labelAngle":0,"labelExpr":"datum.value=='V'?['Vaccine+','GAST-17']:'GAST-17'","labelLineHeight":8,"labelPadding":3}},"y":{"field":"mean","type":"quantitative","scale":{"domain":[0,0.05],"nice":false,"zero":false},"axis":{"values":[0,0.01,0.02,0.03,0.04,0.05],"tickCount":20,"format":".2f","title":"Fold  Change","labelOverlap":false}},"y2":{"datum":0},"color":{"field":"g","type":"nominal","scale":{"domain":["G","V"],"range":["#40F8F8","#B040E0"]},"legend":null}}},
{"data":{"name":"bars"},"transform":[{"filter":"datum.p=='C3'"}],"mark":{"type":"rule","color":"#1a1a1a","strokeWidth":1.1},"encoding":{"x":{"field":"g","type":"nominal"},"y":{"field":"lo","type":"quantitative"},"y2":{"field":"hi"}}},
{"data":{"name":"bars"},"transform":[{"filter":"datum.p=='C3'"},{"fold":["lo","hi"]}],"mark":{"type":"tick","color":"#1a1a1a","thickness":1.1,"size":22},"encoding":{"x":{"field":"g","type":"nominal"},"y":{"field":"value","type":"quantitative"}}},
{"data":{"name":"pts"},"transform":[{"filter":"datum.p=='C3'"},{"window":[{"op":"row_number","as":"rn"}],"groupby":["g"],"sort":[{"field":"v","order":"descending"}]},{"calculate":"[0,-1,1,-2,2][(datum.rn-1)%5]","as":"jit"}],"mark":{"type":"circle","size":13,"stroke":"#1a1a1a","strokeWidth":0.7,"opacity":1},"encoding":{"x":{"field":"g","type":"nominal"},"xOffset":{"field":"jit","type":"quantitative","scale":{"domain":[-3.5,3.5]}},"y":{"field":"v","type":"quantitative"},"fill":{"field":"g","type":"nominal","scale":{"domain":["G","V"],"range":["#2CCCCC","#8B2AB8"]},"legend":null}}},
{"data":{"name":"sig"},"transform":[{"filter":"datum.p=='C3'"}],"mark":{"type":"rule","color":"#222","strokeWidth":1.1},"encoding":{"x":{"field":"from","type":"nominal"},"x2":{"field":"to"},"y":{"field":"y","type":"quantitative"}}},
{"data":{"name":"sig"},"transform":[{"filter":"datum.p=='C3'"}],"mark":{"type":"text","dx":30.9,"dy":1,"baseline":"alphabetic","fontSize":9,"fontWeight":"bold"},"encoding":{"x":{"field":"from","type":"nominal"},"y":{"field":"y","type":"quantitative"},"text":{"field":"label"}}}
]},
{"width":123,"height":120,"title":"CD4⁺ CD25— AHR","layer":[
{"data":{"name":"bars"},"transform":[{"filter":"datum.p=='C4'"}],"mark":{"type":"bar","stroke":"#333","strokeWidth":1.2},"encoding":{"x":{"field":"g","type":"nominal","scale":{"domain":["G","V"],"paddingInner":0.25,"paddingOuter":0.08},"axis":{"title":null,"labelAngle":0,"labelExpr":"datum.value=='V'?['Vaccine+','GAST-17']:'GAST-17'","labelLineHeight":8,"labelPadding":3}},"y":{"field":"mean","type":"quantitative","scale":{"domain":[-1,5],"nice":false,"zero":false},"axis":{"values":[-1,0,1,2,3,4,5],"tickCount":20,"format":"d","title":"Fold  Change","labelOverlap":false}},"y2":{"datum":0},"color":{"field":"g","type":"nominal","scale":{"domain":["G","V"],"range":["#40F8F8","#B040E0"]},"legend":null}}},
{"data":{"values":[{}]},"mark":{"type":"rule","color":"#333","strokeWidth":1.3},"encoding":{"y":{"datum":0,"type":"quantitative"}}},
{"data":{"name":"bars"},"transform":[{"filter":"datum.p=='C4'"}],"mark":{"type":"rule","color":"#1a1a1a","strokeWidth":1.1},"encoding":{"x":{"field":"g","type":"nominal"},"y":{"field":"lo","type":"quantitative"},"y2":{"field":"hi"}}},
{"data":{"name":"bars"},"transform":[{"filter":"datum.p=='C4'"},{"fold":["lo","hi"]}],"mark":{"type":"tick","color":"#1a1a1a","thickness":1.1,"size":22},"encoding":{"x":{"field":"g","type":"nominal"},"y":{"field":"value","type":"quantitative"}}},
{"data":{"name":"pts"},"transform":[{"filter":"datum.p=='C4'"},{"window":[{"op":"row_number","as":"rn"}],"groupby":["g"],"sort":[{"field":"v","order":"descending"}]},{"calculate":"[0,-1,1,-2,2][(datum.rn-1)%5]","as":"jit"}],"mark":{"type":"circle","size":13,"stroke":"#1a1a1a","strokeWidth":0.7,"opacity":1},"encoding":{"x":{"field":"g","type":"nominal"},"xOffset":{"field":"jit","type":"quantitative","scale":{"domain":[-3.5,3.5]}},"y":{"field":"v","type":"quantitative"},"fill":{"field":"g","type":"nominal","scale":{"domain":["G","V"],"range":["#2CCCCC","#8B2AB8"]},"legend":null}}}
]},
{"width":113,"height":120,"title":"CD4⁺ CD25— IL27","layer":[
{"data":{"name":"bars"},"transform":[{"filter":"datum.p=='C5'"}],"mark":{"type":"bar","stroke":"#333","strokeWidth":1.2},"encoding":{"x":{"field":"g","type":"nominal","scale":{"domain":["G","V"],"paddingInner":0.25,"paddingOuter":0.08},"axis":{"title":null,"labelAngle":0,"labelExpr":"datum.value=='V'?['Vaccine+','GAST-17']:'GAST-17'","labelLineHeight":8,"labelPadding":3}},"y":{"field":"mean","type":"quantitative","scale":{"domain":[0,0.25],"nice":false,"zero":false},"axis":{"values":[0,0.05,0.1,0.15,0.2,0.25],"tickCount":20,"format":".2f","title":"Fold  Change","labelOverlap":false}},"y2":{"datum":0},"color":{"field":"g","type":"nominal","scale":{"domain":["G","V"],"range":["#40F8F8","#B040E0"]},"legend":null}}},
{"data":{"name":"bars"},"transform":[{"filter":"datum.p=='C5'"}],"mark":{"type":"rule","color":"#1a1a1a","strokeWidth":1.1},"encoding":{"x":{"field":"g","type":"nominal"},"y":{"field":"lo","type":"quantitative"},"y2":{"field":"hi"}}},
{"data":{"name":"bars"},"transform":[{"filter":"datum.p=='C5'"},{"fold":["lo","hi"]}],"mark":{"type":"tick","color":"#1a1a1a","thickness":1.1,"size":22},"encoding":{"x":{"field":"g","type":"nominal"},"y":{"field":"value","type":"quantitative"}}},
{"data":{"name":"pts"},"transform":[{"filter":"datum.p=='C5'"},{"window":[{"op":"row_number","as":"rn"}],"groupby":["g"],"sort":[{"field":"v","order":"descending"}]},{"calculate":"[0,-1,1,-2,2][(datum.rn-1)%5]","as":"jit"}],"mark":{"type":"circle","size":13,"stroke":"#1a1a1a","strokeWidth":0.7,"opacity":1},"encoding":{"x":{"field":"g","type":"nominal"},"xOffset":{"field":"jit","type":"quantitative","scale":{"domain":[-3.5,3.5]}},"y":{"field":"v","type":"quantitative"},"fill":{"field":"g","type":"nominal","scale":{"domain":["G","V"],"range":["#2CCCCC","#8B2AB8"]},"legend":null}}},
{"data":{"name":"sig"},"transform":[{"filter":"datum.p=='C5'"}],"mark":{"type":"rule","color":"#222","strokeWidth":1.1},"encoding":{"x":{"field":"from","type":"nominal"},"x2":{"field":"to"},"y":{"field":"y","type":"quantitative"}}},
{"data":{"name":"sig"},"transform":[{"filter":"datum.p=='C5'"}],"mark":{"type":"text","dx":29.6,"dy":1,"baseline":"alphabetic","fontSize":9,"fontWeight":"bold"},"encoding":{"x":{"field":"from","type":"nominal"},"y":{"field":"y","type":"quantitative"},"text":{"field":"label"}}}
]}
]}
],
"config":{
"font":"Liberation Sans",
"view":{"stroke":null},
"title":{"anchor":"start","frame":"group","fontSize":7.5,"fontWeight":"bold","offset":3,"dx":2,"color":"#111","font":"Liberation Sans"},
"axis":{"grid":false,"domainColor":"#333","domainWidth":1.3,"tickColor":"#333","tickWidth":1.3,"tickSize":3,"labelFont":"Liberation Sans","labelFontSize":6.5,"labelFontWeight":"bold","labelColor":"#111","labelPadding":1.5,"titleFont":"Liberation Sans","titleFontSize":7.5,"titleFontWeight":"bold","titleColor":"#111","titlePadding":3,"labelOverlap":false}
}
}
